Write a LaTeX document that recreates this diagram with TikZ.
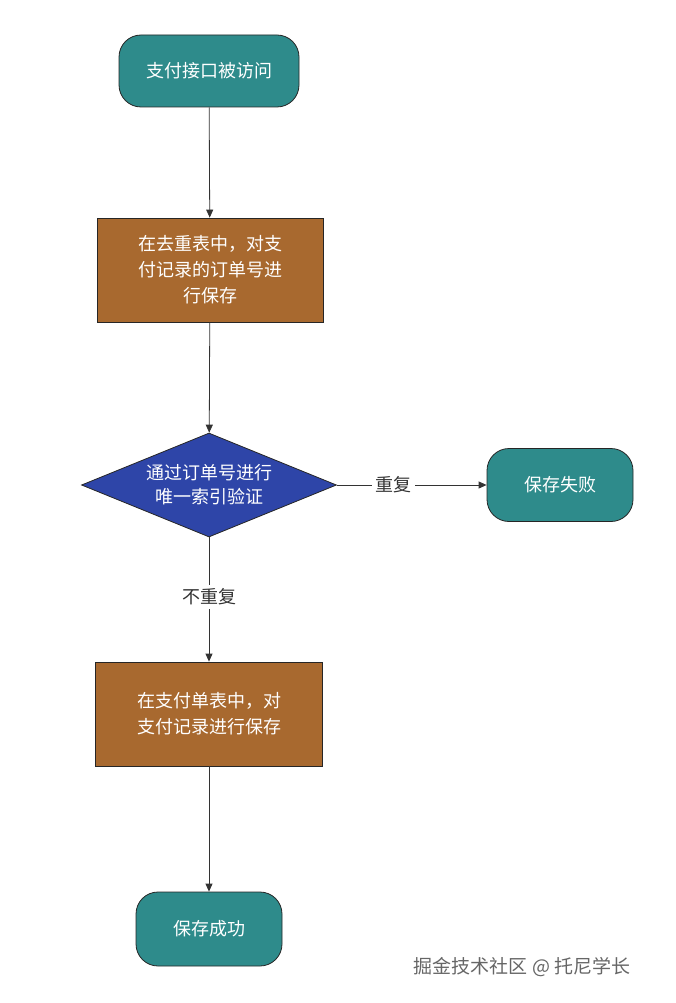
\documentclass[tikz,border=0pt]{standalone}
\usepackage{fontspec}
\setmainfont{Noto Sans CJK SC}
\usetikzlibrary{shapes.geometric,arrows.meta}
\definecolor{tealfill}{HTML}{2E8B8B}
\definecolor{brownfill}{HTML}{A8692F}
\definecolor{bluefill}{HTML}{2E45A8}
\tikzset{
  term/.style={draw=black!85,thick,fill=tealfill,rounded corners=22pt,text=white,align=center,font=\fontsize{18}{24}\selectfont},
  procbox/.style={draw=black!85,thick,fill=brownfill,text=white,align=center,minimum width=226pt,minimum height=104pt,font=\fontsize{18}{26}\selectfont},
  decide/.style={draw=black!85,thick,fill=bluefill,diamond,aspect=2.45,inner sep=0pt,minimum width=255pt,minimum height=104pt,text=white,align=center,font=\fontsize{18}{24}\selectfont},
  flow/.style={draw=black!80,thick,-{Triangle[length=8pt,width=7pt]}},
  lbl/.style={fill=white,text=black!80,font=\fontsize{18}{22}\selectfont}
}
\begin{document}
\begin{tikzpicture}[x=1pt,y=-1pt]
\useasboundingbox (0,0) rectangle (676,1003);
\node[term,minimum width=180pt,minimum height=72pt] (start) at (209,71) {支付接口被访问};
\node[procbox] (save1) at (210,270) {在去重表中，对支\\付记录的订单号进\\行保存};
\node[decide] (check) at (209,485) {通过订单号进行\\唯一索引验证};
\node[term,minimum width=146pt,minimum height=73pt] (fail) at (560,485) {保存失败};
\node[procbox,minimum width=227pt] (save2) at (209,714) {在支付单表中，对\\支付记录进行保存};
\node[term,minimum width=146pt,minimum height=74pt] (done) at (209,929) {保存成功};
\draw[flow] (start) -- (save1);
\draw[flow] (save1) -- (check);
\draw[flow] (check) -- node[lbl,pos=0.38] {重复} (fail);
\draw[flow] (check) -- node[lbl,pos=0.48] {不重复} (save2);
\draw[flow] (save2) -- (done);
\node[text=black!60,font=\fontsize{19}{22}\selectfont] (mark) at (522,967) {掘金技术社区 @ 托尼学长};
\end{tikzpicture}
\end{document}
